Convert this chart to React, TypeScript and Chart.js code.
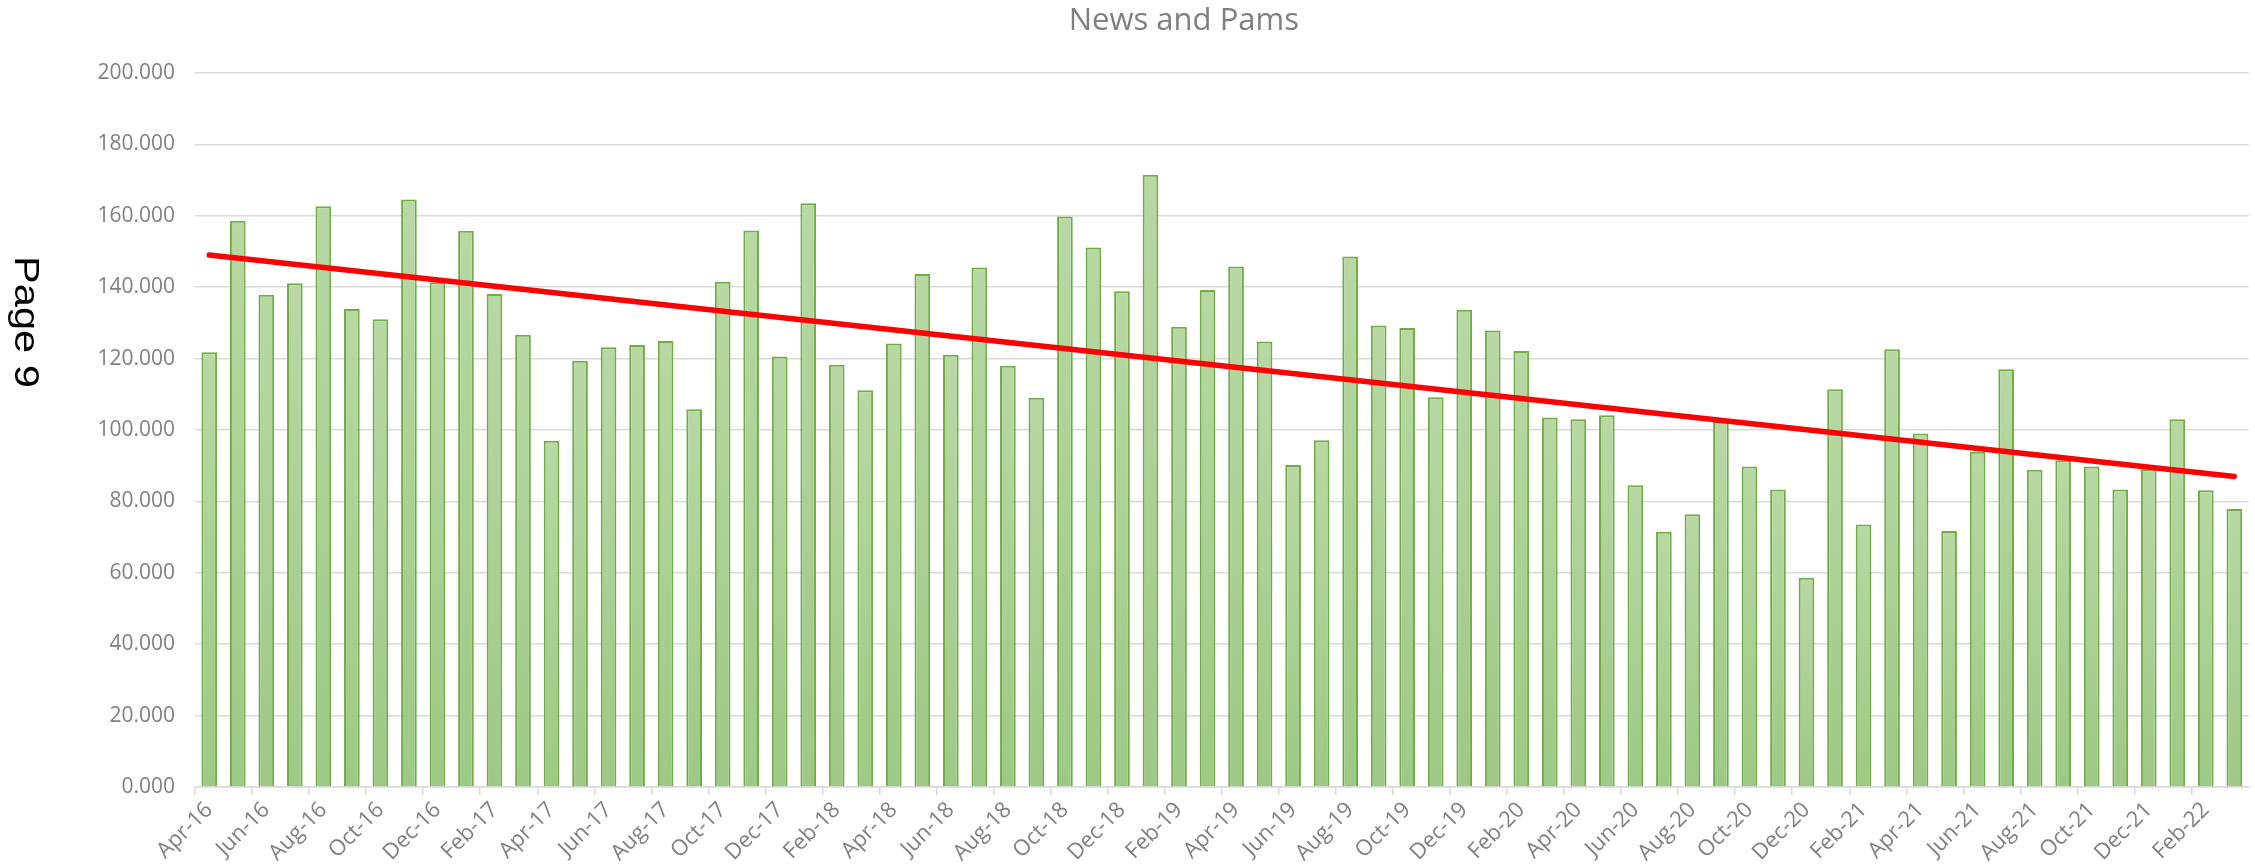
import React, { useEffect, useRef } from "react";
import { Chart, registerables } from "chart.js";

Chart.register(...registerables);

const months: string[] = [
  "Apr-16", "May-16", "Jun-16", "Jul-16", "Aug-16", "Sep-16", "Oct-16", "Nov-16", "Dec-16",
  "Jan-17", "Feb-17", "Mar-17", "Apr-17", "May-17", "Jun-17", "Jul-17", "Aug-17", "Sep-17", "Oct-17", "Nov-17", "Dec-17",
  "Jan-18", "Feb-18", "Mar-18", "Apr-18", "May-18", "Jun-18", "Jul-18", "Aug-18", "Sep-18", "Oct-18", "Nov-18", "Dec-18",
  "Jan-19", "Feb-19", "Mar-19", "Apr-19", "May-19", "Jun-19", "Jul-19", "Aug-19", "Sep-19", "Oct-19", "Nov-19", "Dec-19",
  "Jan-20", "Feb-20", "Mar-20", "Apr-20", "May-20", "Jun-20", "Jul-20", "Aug-20", "Sep-20", "Oct-20", "Nov-20", "Dec-20",
  "Jan-21", "Feb-21", "Mar-21", "Apr-21", "May-21", "Jun-21", "Jul-21", "Aug-21", "Sep-21", "Oct-21", "Nov-21", "Dec-21",
  "Jan-22", "Feb-22", "Mar-22",
];

const newsAndPams: number[] = [
  121800, 158600, 137900, 141100, 162700, 133900, 131000, 164600, 141400,
  155800, 138100, 126700, 97000, 119400, 123200, 123800, 124900, 105800, 141500, 155900, 120600,
  163500, 118300, 111100, 124200, 143700, 121100, 145500, 118000, 109000, 159800, 151100, 138900,
  171500, 128900, 139200, 145800, 124800, 90200, 97100, 148600, 129300, 128600, 109200, 133700,
  127900, 122100, 103500, 103000, 104100, 84500, 71500, 76400, 102300, 89800, 83300, 58600,
  111400, 73500, 122600, 99000, 71700, 93900, 117000, 88900, 91500, 89800, 83300, 89000,
  103000, 83100, 77900,
];

const trendStart = 149000;
const trendEnd = 87000;

const yMin = 0;
const yMax = 200000;
const yStep = 20000;

const chartTitle = "News and Pams";
const yAxisTitle = "Page 9";

function formatThousands(v: number): string {
  const th = Math.floor(v / 1000);
  const rest = Math.round(v % 1000);
  return th + "." + String(rest).padStart(3, "0");
}

const W = 2255;
const H = 867;

export default function App() {
  const canvasRef = useRef<HTMLCanvasElement | null>(null);

  useEffect(() => {
    const canvas = canvasRef.current;
    if (!canvas) return;

    const trendData: (number | null)[] = months.map((_, i) =>
      i === 0 ? trendStart : i === months.length - 1 ? trendEnd : null
    );

    const textPlugin = {
      id: "textPlugin",
      afterDraw(chart: any) {
        const ctx = chart.ctx as CanvasRenderingContext2D;
        ctx.save();
        ctx.fillStyle = "#7f7f7f";
        ctx.font = '31px "Open Sans"';
        ctx.textAlign = "center";
        ctx.textBaseline = "alphabetic";
        ctx.fillText(chartTitle, chart.width * 0.525, 29.5);
        ctx.restore();

        ctx.save();
        ctx.translate(15, 322);
        ctx.rotate(Math.PI / 2);
        ctx.scale(1.19, 1);
        ctx.fillStyle = "#000000";
        ctx.font = '35px "Liberation Sans"';
        ctx.textAlign = "center";
        ctx.textBaseline = "alphabetic";
        ctx.fillText(yAxisTitle, 0, 0);
        ctx.restore();
      },
    };

    const chart = new Chart(canvas, {
      type: "bar",
      data: {
        labels: months,
        datasets: [
          {
            type: "line" as const,
            label: "Trend",
            data: trendData,
            borderColor: "#ff0000",
            borderWidth: 5.5,
            pointRadius: 0,
            spanGaps: true,
            borderCapStyle: "round",
            tension: 0,
            order: 1,
          } as any,
          {
            type: "bar" as const,
            label: chartTitle,
            data: newsAndPams,
            backgroundColor: (c: any) => {
              const ch = c.chart;
              if (!ch.chartArea || c.type !== "data") return "#a9d18e";
              const y = ch.scales.y;
              const top = y.getPixelForValue(c.raw as number);
              const bot = y.getPixelForValue(0);
              const g = ch.ctx.createLinearGradient(0, top, 0, bot);
              g.addColorStop(0, "#b8d8a4");
              g.addColorStop(1, "#9ec985");
              return g;
            },
            borderColor: "#70ad47",
            borderWidth: 2,
            barPercentage: 0.55,
            categoryPercentage: 1,
            order: 2,
          } as any,
        ],
      },
      options: {
        responsive: false,
        animation: false,
        devicePixelRatio: 1,
        layout: { padding: { top: 73, right: 1, left: 0, bottom: 0 } },
        plugins: {
          legend: { display: false },
          tooltip: { enabled: false },
          title: { display: false },
        },
        scales: {
          x: {
            offset: true,
            grid: {
              offset: true,
              drawOnChartArea: false,
              drawTicks: true,
              tickLength: 8,
              lineWidth: 1.5,
              color: (c: any) => (c.index % 2 === 0 ? "#d9d9d9" : "rgba(0,0,0,0)"),
            },
            border: { display: true, color: "#d9d9d9", width: 1.5 },
            ticks: {
              autoSkip: false,
              maxRotation: 45,
              minRotation: 45,
              padding: 2,
              color: "#808080",
              font: { family: "Open Sans", size: 22 },
              callback: (_v: any, i: number) => (i % 2 === 0 ? months[i] : ""),
            },
            afterFit: (s: any) => {
              s.height = 80;
            },
          },
          y: {
            min: yMin,
            max: yMax,
            grid: { color: "#d9d9d9", lineWidth: 1.5, drawTicks: false },
            border: { display: false },
            ticks: {
              stepSize: yStep,
              padding: 20,
              color: "#808080",
              font: { family: "Open Sans", size: 21 },
              callback: (v: any) => formatThousands(Number(v)),
            },
            afterFit: (s: any) => {
              s.width = 195;
            },
          },
        },
      },
      plugins: [textPlugin],
    });

    return () => {
      chart.destroy();
    };
  }, []);

  return (
    <div style={{ position: "absolute", left: 0, top: 0, width: W, height: H, background: "#ffffff" }}>
      <canvas ref={canvasRef} width={W} height={H} style={{ display: "block" }} />
    </div>
  );
}
